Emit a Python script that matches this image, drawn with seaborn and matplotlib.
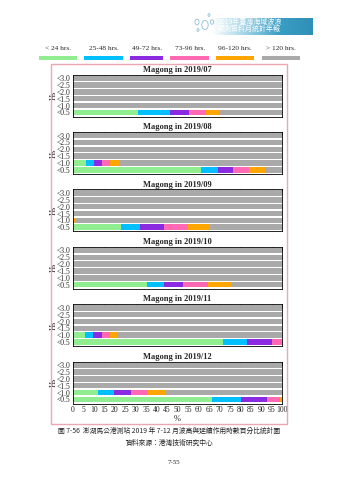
import numpy as np
import pandas as pd
import matplotlib
matplotlib.use("Agg")
import matplotlib.pyplot as plt
from matplotlib.patches import Rectangle, Circle
import seaborn as sns

# ---------------- data ----------------
months = ["2019/07", "2019/08", "2019/09", "2019/10", "2019/11", "2019/12"]
dur_labels = ["< 24 hrs.", "25-48 hrs.", "49-72 hrs.", "73-96 hrs.", "96-120 hrs.", "> 120 hrs."]
dur_colors = ["#90EE90", "#00BFFF", "#8A2BE2", "#FF69B4", "#FFA500", "#A9A9A9"]
hs_labels = ["<3.0", "<2.5", "<2.0", "<1.5", "<1.0", "<0.5"]
x_ticks = list(range(0, 101, 5))

# percentage of each duration class, rows Hs<0.5 and Hs<1.0 (higher rows: all > 120 hrs.)
jul_05 = [31.3, 15.1, 9.2, 7.8, 6.5, 30.1]
jul_10 = [0, 0, 0, 0, 0, 100]
aug_05 = [61.2, 7.9, 7.6, 7.6, 7.5, 8.2]
aug_10 = [6.2, 3.8, 4.0, 3.8, 4.1, 78.1]
sep_05 = [23.1, 9.1, 11.4, 11.6, 10.3, 34.5]
sep_10 = [0, 0, 0, 0, 1.2, 98.8]
oct_05 = [35.6, 7.9, 9.2, 11.8, 11.4, 24.1]
oct_10 = [0, 0, 0, 0, 0, 100]
nov_05 = [71.9, 11.4, 11.9, 4.8, 0, 0]
nov_10 = [6.0, 3.8, 4.0, 3.8, 4.1, 78.3]
dec_05 = [66.6, 13.7, 12.2, 6.4, 1.1, 0]
dec_10 = [11.9, 7.9, 8.1, 8.1, 8.4, 55.6]
upper_row = [0, 0, 0, 0, 0, 100]

rows_05 = [jul_05, aug_05, sep_05, oct_05, nov_05, dec_05]
rows_10 = [jul_10, aug_10, sep_10, oct_10, nov_10, dec_10]

# ---------------- figure ----------------
W, H = 339, 480
fig = plt.figure(figsize=(W / 100, H / 100), dpi=100)
sns.set_style("white")
plt.rcParams["font.family"] = ["Liberation Serif", "Noto Sans CJK TC"]

def fx(px):
    return px / W

def fy(py):
    return 1 - py / H

serif = "Liberation Serif"
cjk = ["Noto Sans CJK TC", "DejaVu Sans"]

# header banner
hax = fig.add_axes([fx(212), fy(35), fx(100), 17 / H])
grad = np.linspace(0, 1, 256).reshape(1, -1)
cmap = matplotlib.colors.LinearSegmentedColormap.from_list("hdr", ["#FFFFFF", "#9FD3E6", "#3A9EC4", "#2F8FB8"])
hax.imshow(grad, aspect="auto", cmap=cmap, extent=[0, 1, 0, 1])
hax.set_axis_off()
fig.text(fx(218), fy(22), "2019年臺灣海域波浪", fontsize=5, color="white", family=cjk, va="center", ha="left")
fig.text(fx(218), fy(29), "觀測資料月統計年報", fontsize=5, color="white", family=cjk, va="center", ha="left")
for cx, cy, r in [(197, 22, 2.0), (205, 25, 3.2), (212, 22, 1.6), (209, 15, 1.0), (198, 30, 1.0)]:
    fig.patches.append(Circle((fx(cx), fy(cy)), r / W, transform=fig.transFigure,
                              facecolor="white", edgecolor="#7FB9D0", lw=0.6, alpha=0.9))

# legend
leg_x = [58, 104, 147, 190, 235, 281]
bar_x0 = [39, 84, 130, 170, 216, 262]
bar_x1 = [77, 123, 163, 209, 254, 300]
for lab, c, tx, x0, x1 in zip(dur_labels, dur_colors, leg_x, bar_x0, bar_x1):
    fig.text(fx(tx), fy(48), lab, fontsize=5.3, family=serif, ha="center", va="center")
    fig.patches.append(Rectangle((fx(x0), fy(60)), (x1 - x0) / W, 4 / H,
                                 transform=fig.transFigure, color=c, lw=0))

# frame
fig.patches.append(Rectangle((fx(50.5), fy(424)), (287 - 50.5) / W, (424 - 64) / H,
                             transform=fig.transFigure, fill=False, edgecolor="#EBA8B0", lw=1.0))

left_px, right_px = 72.7, 282.3
for i, m in enumerate(months):
    top = 74.5 + 57.4 * i
    ax = fig.add_axes([fx(left_px), fy(top + 42), (right_px - left_px) / W, 42 / H])
    recs = []
    row_data = {"<0.5": rows_05[i], "<1.0": rows_10[i]}
    for hs in hs_labels:
        vals = row_data.get(hs, upper_row)
        for k, lab in enumerate(dur_labels):
            recs.append({"Hs": hs, "cat": lab, "cum": float(np.sum(vals[:k + 1]))})
    df = pd.DataFrame(recs)
    # draw cumulative sums from the last class to the first so the bars stack
    for k in range(len(dur_labels) - 1, -1, -1):
        sub = df[df["cat"] == dur_labels[k]]
        sns.barplot(data=sub, x="cum", y="Hs", order=hs_labels, orient="h",
                    color=dur_colors[k], saturation=1, width=0.8, ax=ax,
                    linewidth=0, errorbar=None)
    ax.set_xlim(0, 100)
    ax.set_ylim(5.6, -0.55)
    ax.set_xticks(x_ticks)
    ax.tick_params(axis="both", direction="in", length=2, width=0.5,
                   top=True, right=True, labelsize=5.5, pad=1.5)
    for t in ax.get_yticklabels():
        t.set_family(serif)
    ax.set_ylabel("Hs", fontsize=6, family=serif, labelpad=-0.5)
    ax.set_title(f"Magong in {m}", fontsize=6, fontweight="bold", family=serif, pad=2)
    for s in ax.spines.values():
        s.set_linewidth(0.6)
        s.set_color("black")
    if i < len(months) - 1:
        ax.set_xticklabels([])
        ax.set_xlabel("")
    else:
        ax.set_xticklabels([str(t) for t in x_ticks], family=serif)
        ax.set_xlabel("%", fontsize=6, family=serif, labelpad=1)

# captions
fig.text(0.5, fy(431), "圖 7-56  澎湖馬公港測站 2019 年 7-12 月波高與延續作用時數百分比統計圖",
         fontsize=4.9, family=cjk, ha="center", va="center")
fig.text(0.5, fy(443), "資料來源：港灣技術研究中心", fontsize=4.9, family=cjk, ha="center", va="center")
fig.text(fx(174), fy(462), "7-55", fontsize=5, family=serif, ha="center", va="center")

fig.savefig("out.png", dpi=100)
